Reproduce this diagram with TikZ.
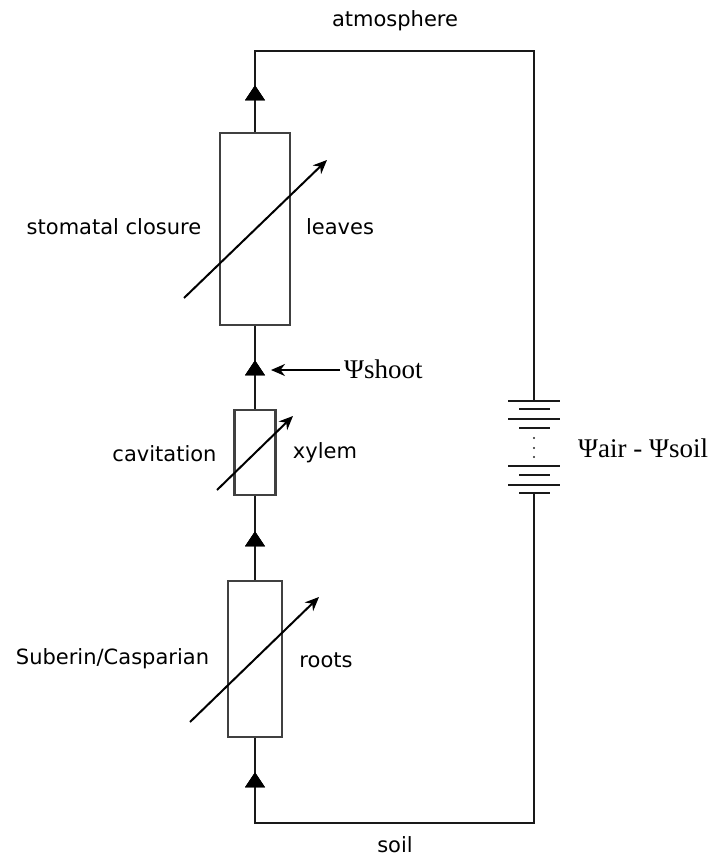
\documentclass[tikz,border=0pt]{standalone}
\usepackage{fontspec}
\setmainfont{DejaVu Sans}
\newfontfamily\psifont{Liberation Serif}
\usetikzlibrary{shapes.geometric,arrows.meta}
\tikzset{
  wire/.style={line width=2pt,draw=black!90},
  resist/.style={draw=black!75,line width=2.2pt,fill=white,inner sep=0pt},
  flowtip/.style={isosceles triangle,isosceles triangle stretches=true,shape border rotate=90,minimum height=15pt,minimum width=20pt,inner sep=0pt,fill=black},
  varrow/.style={line width=2pt,-{Stealth[length=14pt,width=12pt]}},
  lbl/.style={font=\fontsize{21}{25}\selectfont,inner sep=0pt,anchor=base},
  psi/.style={font=\psifont\fontsize{27}{31}\selectfont,inner sep=0pt,anchor=base west},
  plate/.style={line width=2.3pt,draw=black!90},
  dotmark/.style={circle,fill=black!85,inner sep=0pt,minimum size=2.2pt}
}
\begin{document}
\begin{tikzpicture}[x=1pt,y=-1pt]
\useasboundingbox (0,0) rectangle (708,856);
% component rectangles
\node[resist,minimum width=70pt,minimum height=192pt] (leaves) at (255,229) {};
\node[resist,minimum width=41pt,minimum height=85pt] (xylem) at (255,452.5) {};
\node[resist,minimum width=54pt,minimum height=156pt] (roots) at (255,659) {};
% flow tips
\node[flowtip] (t1) at (255,95) {};
\node[flowtip] (t2) at (255,370) {};
\node[flowtip] (t3) at (255,541) {};
\node[flowtip] (t4) at (255,782) {};
% circuit corners and battery terminals
\coordinate (ctl) at (255,51);
\coordinate (ctr) at (534,51);
\coordinate (cbl) at (255,823);
\coordinate (cbr) at (534,823);
\coordinate (battop) at (534,401);
\coordinate (batbot) at (534,493);
% wires
\draw[wire] (leaves.north) -- (t1.center) -- (ctl) -- (ctr) -- (battop);
\draw[wire] (leaves.south) -- (t2.center) -- (xylem.north);
\draw[wire] (xylem.south) -- (t3.center) -- (roots.north);
\draw[wire] (roots.south) -- (t4.center) -- (cbl) -- (cbr) -- (batbot);
% redraw tips over wires
\node[flowtip] at (t1.center) {};
\node[flowtip] at (t2.center) {};
\node[flowtip] at (t3.center) {};
\node[flowtip] at (t4.center) {};
% variable-resistance arrows
\coordinate (a1s) at (184,298); \coordinate (a1e) at (327,160);
\coordinate (a2s) at (217,490); \coordinate (a2e) at (293,416);
\coordinate (a3s) at (190,722); \coordinate (a3e) at (319,597);
\draw[varrow] (a1s) -- (a1e);
\draw[varrow] (a2s) -- (a2e);
\draw[varrow] (a3s) -- (a3e);
% battery plates
\foreach \yy in {401,419,466,485}{\draw[plate] (508,\yy) -- (560,\yy);}
\foreach \yy in {409,428,475,493}{\draw[plate] (519,\yy) -- (549.5,\yy);}
\node[dotmark] (d1) at (534,438) {};
\node[dotmark] (d2) at (534,448) {};
\node[dotmark] (d3) at (534,457) {};
% labels
\node[lbl] (atm) at (395,27) {atmosphere};
\node[lbl] (soil) at (395,852) {soil};
\node[lbl] (stom) at (114,234) {stomatal closure};
\node[lbl] (lv) at (340,234) {leaves};
\node[lbl] (cav) at (164.5,461) {cavitation};
\node[lbl] (xy) at (325,458) {xylem};
\node[lbl] (sub) at (112.5,664) {Suberin/Casparian};
\node[lbl] (rt) at (326,667) {roots};
\node[psi] (shoot) at (344,378) {Ψshoot};
\node[psi] (airsoil) at (578,457) {Ψair - Ψsoil};
\coordinate (shootend) at (340,370);
\coordinate (shoottip) at (271,370);
\draw[varrow] (shootend) -- (shoottip);
\end{tikzpicture}
\end{document}
